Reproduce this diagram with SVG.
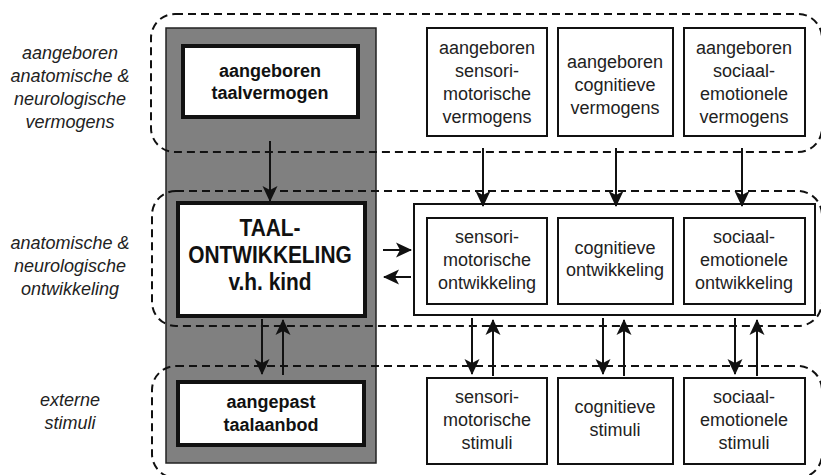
<svg xmlns="http://www.w3.org/2000/svg" width="821" height="475" viewBox="0 0 821 475">
<defs>
<marker id="ah" markerUnits="userSpaceOnUse" markerWidth="16" markerHeight="16" viewBox="0 0 16 16" refX="15" refY="8" orient="auto">
<path d="M0,0.5 L16,8 L0,15.5 L4,8 z" fill="#111"/>
</marker>
<style>
.lab{font-family:"Liberation Sans",Arial,sans-serif;font-size:18px;font-style:italic;fill:#222;text-anchor:middle}
.t{font-family:"Liberation Sans",Arial,sans-serif;font-size:18px;fill:#222;text-anchor:middle}
.b{font-family:"Liberation Sans",Arial,sans-serif;font-size:18px;font-weight:bold;fill:#111;text-anchor:middle}
.bb{font-family:"Liberation Sans",Arial,sans-serif;font-size:24px;font-weight:bold;fill:#111;text-anchor:middle}
.box{fill:#fff;stroke:#111;stroke-width:2}
.thick{fill:#fff;stroke:#111;stroke-width:4}
.dash{fill:none;stroke:#111;stroke-width:2;stroke-dasharray:8 5}
.arr{stroke:#111;stroke-width:2;fill:none;marker-end:url(#ah)}
</style>
</defs>
<rect width="821" height="475" fill="#fff"/>

<g id="labels">
<text class="lab" x="70" y="59">aangeboren</text>
<text class="lab" x="70" y="82">anatomische &amp;</text>
<text class="lab" x="70" y="105">neurologische</text>
<text class="lab" x="70" y="128">vermogens</text>
<text class="lab" x="70" y="249">anatomische &amp;</text>
<text class="lab" x="70" y="272">neurologische</text>
<text class="lab" x="70" y="295">ontwikkeling</text>
<text class="lab" x="70" y="406">externe</text>
<text class="lab" x="70" y="429">stimuli</text>
</g>

<g id="taal-column">
<rect x="166" y="28" width="210" height="435" fill="#808080" stroke="#222" stroke-width="1.5"/>
</g>

<g id="regions">
<rect class="dash" x="151" y="14" width="671" height="138" rx="24"/>
<rect class="dash" x="152" y="191" width="670" height="135" rx="24"/>
<rect class="dash" x="152" y="366" width="670" height="112" rx="24"/>
</g>

<g id="n-taalvermogen">
<rect class="thick" x="183" y="46" width="175" height="71"/>
<text class="b" x="270" y="77">aangeboren</text>
<text class="b" x="270" y="99">taalvermogen</text>
</g>

<g id="n-taalontwikkeling">
<rect class="thick" x="178" y="203" width="187" height="113"/>
<g transform="translate(270,0) scale(0.87,1)">
<text class="bb" x="0" y="236">TAAL-</text>
<text class="bb" x="0" y="263">ONTWIKKELING</text>
<text class="bb" x="0" y="290">v.h. kind</text>
</g>
</g>

<g id="n-taalaanbod">
<rect class="thick" x="178" y="382" width="186" height="63"/>
<text class="b" x="271" y="408">aangepast</text>
<text class="b" x="271" y="431">taalaanbod</text>
</g>

<g id="n-ag-sm">
<rect class="box" x="427" y="28" width="120" height="108"/>
<text class="t" x="487" y="54">aangeboren</text>
<text class="t" x="487" y="77">sensori-</text>
<text class="t" x="487" y="100">motorische</text>
<text class="t" x="487" y="123">vermogens</text>
</g>
<g id="n-ag-cog">
<rect class="box" x="558" y="28" width="115" height="108"/>
<text class="t" x="615" y="68">aangeboren</text>
<text class="t" x="615" y="91">cognitieve</text>
<text class="t" x="615" y="114">vermogens</text>
</g>
<g id="n-ag-se">
<rect class="box" x="684" y="28" width="121" height="108"/>
<text class="t" x="744" y="54">aangeboren</text>
<text class="t" x="744" y="77">sociaal-</text>
<text class="t" x="744" y="100">emotionele</text>
<text class="t" x="744" y="123">vermogens</text>
</g>

<g id="n-ontwikkeling-groep">
<rect class="box" x="414" y="204" width="401" height="111"/>
</g>
<g id="n-ow-sm">
<rect class="box" x="427" y="218" width="120" height="86"/>
<text class="t" x="487" y="243">sensori-</text>
<text class="t" x="487" y="266">motorische</text>
<text class="t" x="487" y="289">ontwikkeling</text>
</g>
<g id="n-ow-cog">
<rect class="box" x="558" y="218" width="115" height="86"/>
<text class="t" x="615" y="254">cognitieve</text>
<text class="t" x="615" y="276">ontwikkeling</text>
</g>
<g id="n-ow-se">
<rect class="box" x="684" y="218" width="121" height="86"/>
<text class="t" x="744" y="243">sociaal-</text>
<text class="t" x="744" y="266">emotionele</text>
<text class="t" x="744" y="289">ontwikkeling</text>
</g>

<g id="n-st-sm">
<rect class="box" x="427" y="378" width="120" height="86"/>
<text class="t" x="487" y="403">sensori-</text>
<text class="t" x="487" y="426">motorische</text>
<text class="t" x="487" y="449">stimuli</text>
</g>
<g id="n-st-cog">
<rect class="box" x="558" y="378" width="115" height="86"/>
<text class="t" x="615" y="413">cognitieve</text>
<text class="t" x="615" y="436">stimuli</text>
</g>
<g id="n-st-se">
<rect class="box" x="684" y="378" width="121" height="86"/>
<text class="t" x="744" y="403">sociaal-</text>
<text class="t" x="744" y="426">emotionele</text>
<text class="t" x="744" y="449">stimuli</text>
</g>

<g id="connectors">
<line class="arr" x1="270" y1="141" x2="270" y2="201"/>
<line class="arr" x1="483" y1="148" x2="483" y2="206"/>
<line class="arr" x1="616" y1="148" x2="616" y2="206"/>
<line class="arr" x1="742" y1="148" x2="742" y2="206"/>
<line class="arr" x1="383" y1="250" x2="411" y2="250"/>
<line class="arr" x1="411" y1="277" x2="384" y2="277"/>
<line class="arr" x1="262" y1="319" x2="262" y2="374"/>
<line class="arr" x1="283" y1="375" x2="283" y2="320"/>
<line class="arr" x1="472" y1="318" x2="472" y2="374"/>
<line class="arr" x1="493" y1="376" x2="493" y2="320"/>
<line class="arr" x1="603" y1="318" x2="603" y2="374"/>
<line class="arr" x1="624" y1="376" x2="624" y2="320"/>
<line class="arr" x1="735" y1="318" x2="735" y2="374"/>
<line class="arr" x1="757" y1="376" x2="757" y2="320"/>
</g>
</svg>
